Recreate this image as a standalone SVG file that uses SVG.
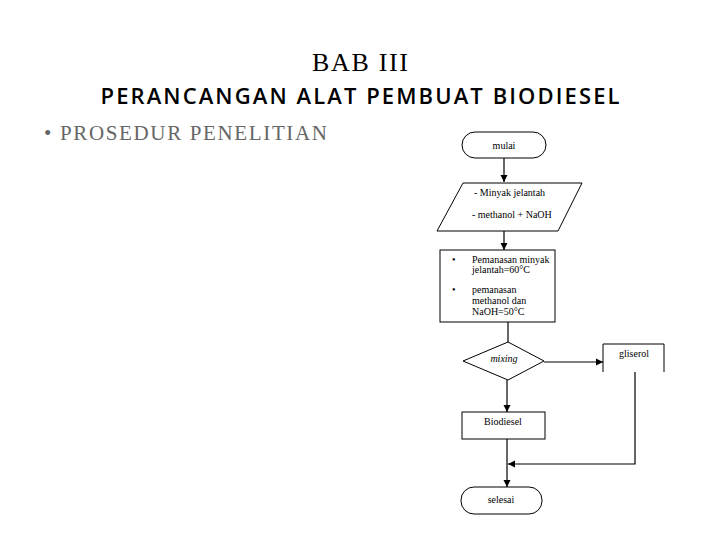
<svg xmlns="http://www.w3.org/2000/svg" width="720" height="540" viewBox="0 0 720 540">
<defs>
<marker id="ah" viewBox="0 0 10 10" refX="10" refY="5" markerWidth="6" markerHeight="6" orient="auto"><path d="M0,0L10,5L0,10z" fill="#000"/></marker>
</defs>
<style>
.s{fill:#fff;stroke:#000;stroke-width:1}
.t{font-family:"Liberation Serif",serif;font-size:10px;fill:#000}
.c{stroke:#000;stroke-width:1.2;fill:none}
</style>
<rect width="720" height="540" fill="#fff"/>
<text x="360" y="71" text-anchor="middle" font-family="Liberation Serif,serif" font-size="26" textLength="96">BAB III</text>
<text x="360" y="104" text-anchor="middle" font-family="Open Sans,Liberation Sans,sans-serif" font-weight="600" font-size="22" textLength="519">PERANCANGAN ALAT PEMBUAT BIODIESEL</text>
<text x="44" y="140" font-family="Liberation Serif,serif" font-size="21" fill="#666" textLength="283">• PROSEDUR PENELITIAN</text>
<g id="connectors">
<line class="c" x1="504" y1="158" x2="504" y2="182" marker-end="url(#ah)"/>
<line class="c" x1="504" y1="231" x2="504" y2="250" marker-end="url(#ah)"/>
<line class="c" x1="508" y1="322" x2="508" y2="342"/>
<line class="c" x1="544" y1="362" x2="603" y2="362" marker-end="url(#ah)"/>
<line class="c" x1="507" y1="380" x2="507" y2="412" marker-end="url(#ah)"/>
<line class="c" x1="507" y1="439" x2="507" y2="487" marker-end="url(#ah)"/>
<polyline class="c" points="635,372 635,464 508,464" marker-end="url(#ah)"/>
</g>
<g id="mulai"><rect class="s" x="462" y="132" width="84" height="26" rx="13"/><text class="t" x="504" y="149" text-anchor="middle">mulai</text></g>
<g id="input"><polygon class="s" points="463,183 582,183 558,231 437,231"/><text class="t" x="474" y="196">- Minyak jelantah</text><text class="t" x="472" y="218">- methanol + NaOH</text></g>
<g id="pemanasan"><rect class="s" x="440" y="250" width="115" height="72"/>
<text class="t" x="452" y="263">•</text><text class="t" x="472" y="263">Pemanasan minyak</text><text class="t" x="472" y="273">jelantah=60°C</text>
<text class="t" x="452" y="293">•</text><text class="t" x="472" y="293">pemanasan</text><text class="t" x="472" y="304">methanol dan</text><text class="t" x="472" y="315">NaOH=50°C</text></g>
<g id="mixing"><polygon class="s" points="463,361 508,342 544,361 508,380"/><text class="t" x="504" y="362" text-anchor="middle" font-style="italic">mixing</text></g>
<g id="gliserol"><polyline class="s" fill="none" points="603,372 603,344 664,344 664,372"/><text class="t" x="634" y="357" text-anchor="middle">gliserol</text></g>
<g id="biodiesel"><rect class="s" x="462" y="412" width="83" height="27"/><text class="t" x="503" y="425" text-anchor="middle">Biodiesel</text></g>
<g id="selesai"><rect class="s" x="461" y="487" width="81" height="27" rx="13"/><text class="t" x="501" y="503" text-anchor="middle">selesai</text></g>
</svg>
